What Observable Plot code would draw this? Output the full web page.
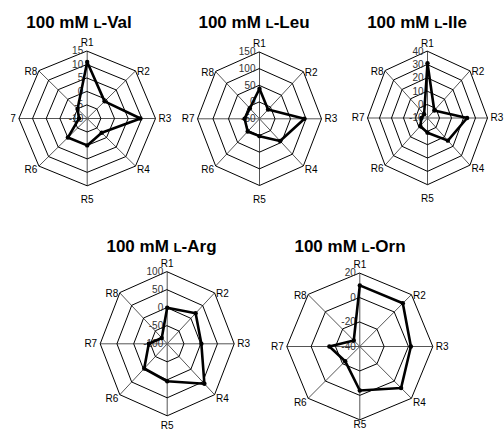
<!DOCTYPE html>
<html><head><meta charset="utf-8">
<script src="https://cdn.jsdelivr.net/npm/d3@7"></script>
<script src="https://cdn.jsdelivr.net/npm/@observablehq/plot@0.6"></script>
<style>
body{margin:0;background:#fff;}
#wrap{position:relative;width:504px;height:431px;overflow:hidden;background:#fff;}
.ttl{position:absolute;font-family:"Liberation Sans",Arial,sans-serif;font-weight:bold;font-size:17px;line-height:17px;white-space:nowrap;transform:translateX(-50%);color:#000;}
.sc{font-size:0.78em;}
</style></head><body><div id="wrap"></div>
<script>
// ---- data ----
const categories = ["R1", "R2", "R3", "R4", "R5", "R6", "R7", "R8"];
const titles = ["Val", "Leu", "Ile", "Arg", "Orn"];
const valValues = [11, -1, 9.5, -2.5, 0, 0, -7, -5];
const leuValues = [40, -11, 95, 44, 2, 4, -2, -6];
const ileValues = [31, -2, 23, 14, 1, -1.5, -5, -6];
const argValues = [0, 20, 2, 57, 4, -3, -45, -77];
const ornValues = [10, 10, 2, 8, -4, -23, -15, -33];
const valTicks = [-10, -5, 0, 5, 10, 15];
const leuTicks = [-50, 0, 50, 100, 150];
const ileTicks = [-10, 0, 10, 20, 30, 40];
const argTicks = [-100, -50, 0, 50, 100];
const ornTicks = [-40, -20, 0, 20];

// ---- layout ----
const panels = [
  {title: titles[0], values: valValues, ticks: valTicks, cx: 86.7, cy: 118, rx: 68.3, ry: 67.3, tx: 79, ty: 13.6, clipLeft: 10.6, r5dy: 14},
  {title: titles[1], values: leuValues, ticks: leuTicks, cx: 259, cy: 118.3, rx: 62, ry: 66.7, tx: 254, ty: 13.6, r5dy: 14},
  {title: titles[2], values: ileValues, ticks: ileTicks, cx: 427, cy: 117.5, rx: 60, ry: 66.7, tx: 417, ty: 13.6, r5dy: 14},
  {title: titles[3], values: argValues, ticks: argTicks, cx: 166.7, cy: 343.3, rx: 67, ry: 72, tx: 161.5, ty: 237.6, r5dy: 9.5},
  {title: titles[4], values: ornValues, ticks: ornTicks, cx: 359.3, cy: 346, rx: 73, ry: 73.3, tx: 350, ty: 237.6, r5dy: 5}
];

const labelPos = [
  {anchor: "middle", dx: 0, dy: -8},
  {anchor: "start", dx: 1.5, dy: 1},
  {anchor: "start", dx: 3, dy: 0},
  {anchor: "start", dx: 1.5, dy: 4},
  {anchor: "middle", dx: 0, dy: 14},
  {anchor: "end", dx: -1.5, dy: 4},
  {anchor: "end", dx: -3, dy: 0},
  {anchor: "end", dx: -1.5, dy: 1}
];

const wrap = document.getElementById("wrap");
const ang = i => i * Math.PI / 4;

for (const p of panels) {
  const min = p.ticks[0], max = p.ticks[p.ticks.length - 1];
  const norm = v => (v - min) / (max - min);
  const pts = p.values.map((v, i) => ({cat: categories[i], x: norm(v) * Math.sin(ang(i)), y: norm(v) * Math.cos(ang(i))}));
  const rings = p.ticks.slice(1).flatMap(t => categories.map((c, i) => ({t, x: norm(t) * Math.sin(ang(i)), y: norm(t) * Math.cos(ang(i))})));
  const spokes = categories.map((c, i) => ({x1: 0, y1: 0, x2: Math.sin(ang(i)), y2: Math.cos(ang(i))}));
  const catMarks = categories.map((c, i) => Plot.text([c], {
    x: Math.sin(ang(i)), y: Math.cos(ang(i)), text: d => d,
    textAnchor: labelPos[i].anchor, dx: labelPos[i].dx, dy: i === 4 ? p.r5dy : labelPos[i].dy,
    fontSize: 10, fill: "#000"
  }));
  const svg = Plot.plot({
    width: 504, height: 431, margin: 0,
    x: {domain: [-1, 1], range: [p.cx - p.rx, p.cx + p.rx], axis: null},
    y: {domain: [-1, 1], range: [p.cy + p.ry, p.cy - p.ry], axis: null},
    style: {fontFamily: "'Liberation Sans', Arial, sans-serif", background: "transparent"},
    marks: [
      Plot.link(spokes, {x1: "x1", y1: "y1", x2: "x2", y2: "y2", stroke: "#555", strokeWidth: 1}),
      Plot.line(rings, {x: "x", y: "y", z: "t", curve: "linear-closed", stroke: "#000", strokeWidth: 1}),
      Plot.text(p.ticks, {x: 0, y: t => norm(t), text: t => String(t), textAnchor: "end", dx: -4, fontSize: 10, fill: "#333"}),
      Plot.line(pts, {x: "x", y: "y", curve: "linear-closed", stroke: "#000", strokeWidth: 2.6, strokeLinejoin: "miter"}),
      Plot.dot(pts, {x: "x", y: "y", r: 2.2, fill: "#000"}),
      ...catMarks
    ]
  });
  svg.style.position = "absolute";
  svg.style.left = "0px";
  svg.style.top = "0px";
  svg.style.maxWidth = "none";
  if (p.clipLeft) svg.style.clipPath = `inset(0 0 0 ${p.clipLeft}px)`;
  wrap.appendChild(svg);

  const t = document.createElement("div");
  t.className = "ttl";
  t.style.left = p.tx + "px";
  t.style.top = p.ty + "px";
  t.innerHTML = `100 mM <span class="sc">L</span>-${p.title}`;
  wrap.appendChild(t);
}
</script></body></html>
